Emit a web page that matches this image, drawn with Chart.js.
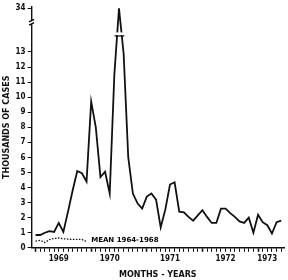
<!DOCTYPE html>
<html>
<head>
<meta charset="utf-8">
<script src="https://cdn.jsdelivr.net/npm/chart.js@4/dist/chart.umd.min.js"></script>
<style>
  html, body { margin: 0; padding: 0; background: #fff; }
  #wrap { width: 288px; height: 280px; }
</style>
</head>
<body>
<div id="wrap"><canvas id="chart-cases"></canvas></div>
<script>
// monthly cases (thousands), Jan 1969 - Jun 1973
const caseValues = [
    0.85, 0.85, 1.0, 1.1, 1.05, 1.65, 1.05, 2.4, 3.8, 5.1, 4.95, 4.4,
    9.7, 8.0, 4.7, 5.05, 3.6, 11.5, 34, 12.9, 6.0, 3.6, 2.95, 2.6,
    3.4, 3.6, 3.2, 1.35, 2.55, 4.2, 4.35, 2.4, 2.35, 2.05, 1.8, 2.15,
    2.5, 2.05, 1.65, 1.65, 2.6, 2.6, 2.3, 2.05, 1.75, 1.65, 2.0, 1.0,
    2.2, 1.7, 1.5, 0.95, 1.7, 1.8
];
// monthly mean 1964-1968 (shown under 1969)
const meanValues = [0.45, 0.5, 0.35, 0.55, 0.62, 0.65, 0.6, 0.57, 0.56, 0.56, 0.55, 0.42];
const meanLabel = 'MEAN 1964-1968';

const yearLabels = ['1969', '1970', '1971', '1972', '1973'];
const yearLabelMonth = [5, 16, 29, 41, 50];
const yTickValues = [0, 1, 2, 3, 4, 5, 6, 7, 8, 9, 10, 11, 12, 13, 34];

// the axis is broken above 13: squeeze the top part
const breakFrom = 13;
const squeeze = 2.9 / 21;
function toAxis(v) {
    return v > breakFrom ? breakFrom + (v - breakFrom) * squeeze : v;
}

const tickFont = { family: "'Liberation Sans Narrow', 'DejaVu Sans Condensed', sans-serif", size: 8, weight: 'bold' };
const titleFont = { family: "'DejaVu Sans', sans-serif", size: 8, weight: 'bold' };

const breakMarks = {
    id: 'breakMarks',
    afterDatasetsDraw(chart) {
        const ctx = chart.ctx;
        const xs = chart.scales.x, ys = chart.scales.y;
        ctx.save();
        ctx.strokeStyle = '#000';
        ctx.lineWidth = 1.2;

        // break on the data line
        const pts = chart.getDatasetMeta(0).data;
        const yb = ys.getPixelForValue(14.1);
        for (let i = 1; i < pts.length; i++) {
            const a = pts[i - 1], b = pts[i];
            if ((a.y - yb) * (b.y - yb) < 0) {
                const xc = a.x + (yb - a.y) / (b.y - a.y) * (b.x - a.x);
                ctx.fillStyle = '#fff';
                ctx.fillRect(xc - 3, yb - 3, 6, 3);
                ctx.beginPath();
                ctx.moveTo(xc - 2.5, yb + 0.5);
                ctx.lineTo(xc + 2.5, yb + 0.5);
                ctx.stroke();
            }
        }

        // break on the y axis
        const x0 = xs.left;
        const y1 = ys.getPixelForValue(15.1), y2 = ys.getPixelForValue(14.85);
        ctx.fillStyle = '#fff';
        ctx.fillRect(x0 - 2, y1, 4, y2 - y1);
        ctx.beginPath();
        ctx.moveTo(x0 - 2.5, y1 + 1.5); ctx.lineTo(x0 + 2.5, y1 - 1);
        ctx.moveTo(x0 - 2.5, y2 + 1); ctx.lineTo(x0 + 2.5, y2 - 1.5);
        ctx.stroke();

        // mean label
        ctx.fillStyle = '#000';
        ctx.font = "bold 7px 'DejaVu Sans', sans-serif";
        ctx.textBaseline = 'middle';
        ctx.textAlign = 'left';
        ctx.fillText(meanLabel, xs.getPixelForValue(12.0), ys.getPixelForValue(0.48));
        ctx.restore();
    }
};

const dataCases = {
    datasets: [{
        label: 'Cases',
        data: caseValues.map((v, i) => ({ x: i, y: toAxis(v) })),
        borderColor: '#111',
        borderWidth: 1.8,
        pointRadius: 0,
        tension: 0,
        fill: false
    }, {
        label: meanLabel,
        data: meanValues.map((v, i) => ({ x: i, y: v })),
        borderColor: '#111',
        borderWidth: 1.3,
        borderDash: [1.5, 1.5],
        pointRadius: 0,
        tension: 0,
        fill: false
    }]
};

const configCases = {
    type: 'line',
    data: dataCases,
    options: {
        responsive: true,
        maintainAspectRatio: false,
        animation: false,
        layout: {
            padding: { left: 2, right: 4, top: 0, bottom: 0 }
        },
        plugins: {
            legend: { display: false },
            tooltip: { enabled: false }
        },
        scales: {
            x: {
                type: 'linear',
                min: -0.85,
                max: 53.6,
                afterBuildTicks: (scale) => {
                    scale.ticks = caseValues.map((_, i) => ({ value: i }));
                },
                ticks: {
                    autoSkip: false,
                    maxRotation: 0,
                    padding: 2,
                    color: '#111',
                    font: tickFont,
                    callback: (value) => {
                        const k = yearLabelMonth.indexOf(value);
                        return k >= 0 ? yearLabels[k] : '';
                    }
                },
                grid: {
                    drawOnChartArea: false,
                    drawTicks: true,
                    tickLength: 4,
                    tickColor: '#111',
                    tickWidth: (c) => (c.tick && c.tick.value % 12 === 0 ? 1.6 : 1)
                },
                border: { display: true, color: '#111', width: 1.4 },
                title: {
                    display: true,
                    text: 'MONTHS - YEARS',
                    color: '#111',
                    font: titleFont,
                    padding: { top: 5, bottom: 0 }
                }
            },
            y: {
                type: 'linear',
                min: 0,
                max: 16,
                afterBuildTicks: (scale) => {
                    scale.ticks = yTickValues.map(v => ({ value: toAxis(v) }));
                },
                ticks: {
                    autoSkip: false,
                    padding: 2,
                    color: '#111',
                    font: tickFont,
                    callback: (value) => (value > breakFrom ? '34' : value)
                },
                grid: {
                    drawOnChartArea: false,
                    drawTicks: true,
                    tickLength: 4,
                    tickColor: '#111'
                },
                border: { display: true, color: '#111', width: 1.4 },
                title: {
                    display: true,
                    text: 'THOUSANDS OF CASES',
                    color: '#111',
                    font: titleFont,
                    padding: { top: 0, bottom: 2 }
                }
            }
        }
    },
    plugins: [breakMarks]
};

const myChartCases = new Chart(
    document.getElementById('chart-cases'),
    configCases
);
</script>
</body>
</html>
